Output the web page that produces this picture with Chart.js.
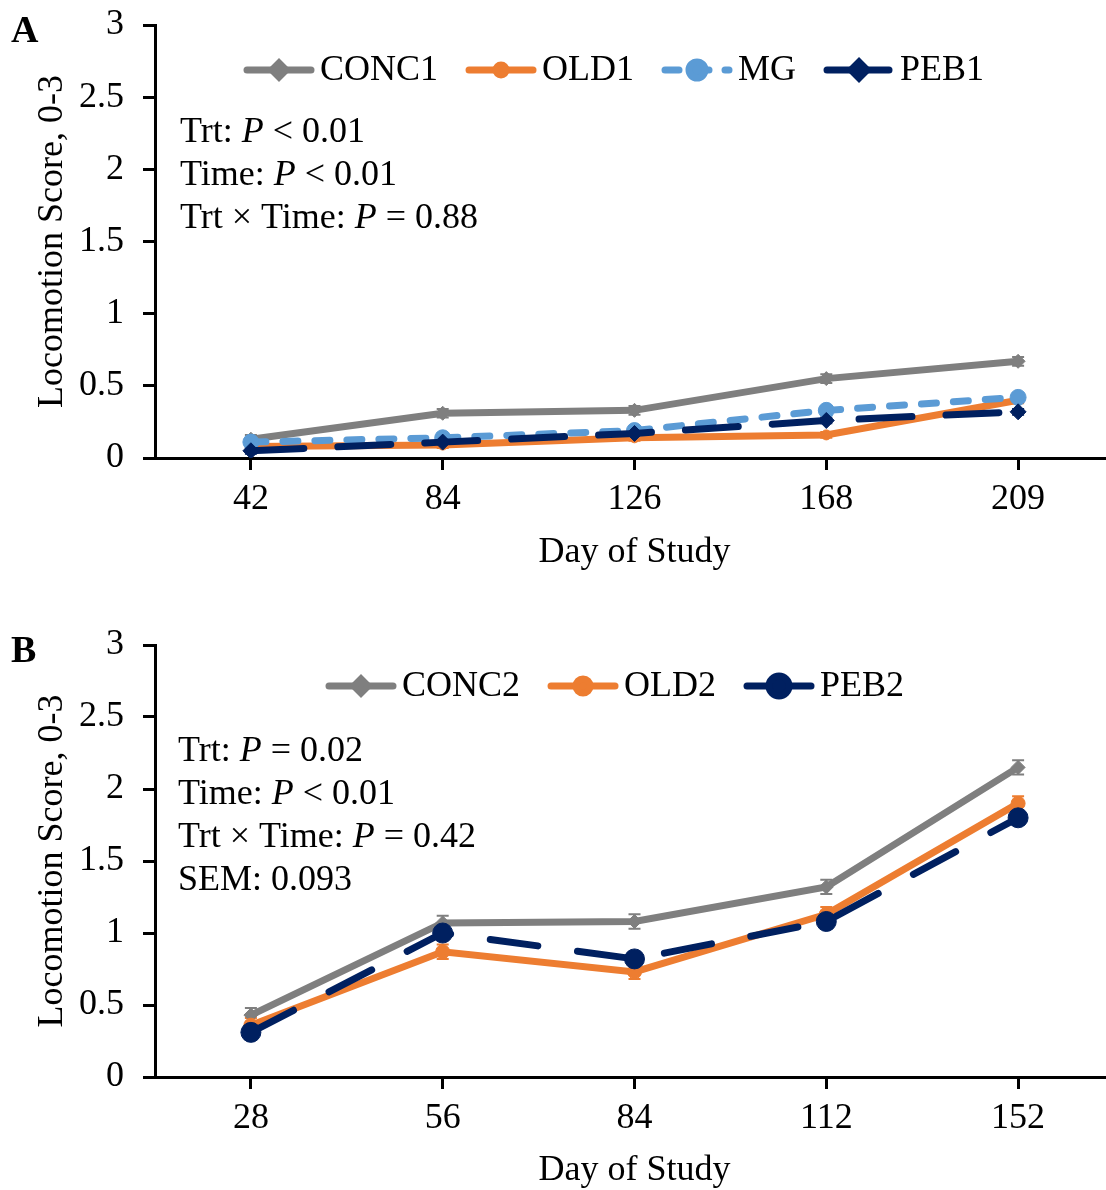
<!DOCTYPE html>
<html>
<head>
<meta charset="utf-8">
<script src="https://cdn.jsdelivr.net/npm/chart.js@4.4.1/dist/chart.umd.min.js"></script>
<style>
html, body { margin: 0; padding: 0; background: #fff; overflow: hidden; width: 1106px; height: 1190px; }
.panel { position: absolute; left: 0; }
#panelA { top: 0; }
#panelB { top: 620px; }
canvas { display: block; }
</style>
</head>
<body>
<div class="panel" id="panelA"><canvas id="chartA" width="1114" height="600"></canvas></div>
<div class="panel" id="panelB"><canvas id="chartB" width="1114" height="600"></canvas></div>
<script>
// panel A - days and scores
const daysA = ["42", "84", "126", "168", "209"];
const conc1 = [0.13, 0.31, 0.33, 0.55, 0.67];
const old1 = [0.08, 0.09, 0.14, 0.16, 0.40];
const mg = [0.11, 0.14, 0.19, 0.33, 0.42];
const peb1 = [0.05, 0.11, 0.17, 0.26, 0.32];
const errConc1 = [0.03, 0.03, 0.03, 0.03, 0.03];
const errOld1 = [0.02, 0.02, 0.02, 0.02, 0.02];
const errMg = [0.03, 0.03, 0.03, 0.03, 0.03];
const errPeb1 = [0.02, 0.02, 0.02, 0.02, 0.02];

// panel B
const daysB = ["28", "56", "84", "112", "152"];
const conc2 = [0.43, 1.07, 1.08, 1.32, 2.15];
const old2 = [0.36, 0.87, 0.73, 1.13, 1.90];
const peb2 = [0.31, 1.00, 0.82, 1.08, 1.80];
const errConc2 = [0.05, 0.05, 0.05, 0.05, 0.05];
const errOld2 = [0.05, 0.05, 0.05, 0.05, 0.05];
const errPeb2 = [0.05, 0.05, 0.05, 0.05, 0.05];

const yTicks = [0, 0.5, 1, 1.5, 2, 2.5, 3];

const notesA = [["Trt: ", "P", " < 0.01"], ["Time: ", "P", " < 0.01"], ["Trt \u00d7 Time: ", "P", " = 0.88"]];
const notesB = [["Trt: ", "P", " = 0.02"], ["Time: ", "P", " < 0.01"], ["Trt \u00d7 Time: ", "P", " = 0.42"], ["SEM: 0.093"]];

const GREY = "#7f7f7f", ORANGE = "#ed7d31", BLUE = "#5b9bd5", NAVY = "#002060";
const FONT = "'Liberation Serif', 'Times New Roman', serif";

Chart.defaults.font.family = FONT;
Chart.defaults.color = "#000";

function series(label, data, err, color, dash, style, radius, order) {
    return {
        label: label,
        data: data,
        err: err,
        borderColor: color,
        backgroundColor: color,
        borderWidth: 7,
        borderDash: dash,
        borderCapStyle: "round",
        pointStyle: style,
        pointRadius: radius,
        pointBorderWidth: 1,
        tension: 0,
        order: order,
    };
}

// small vertical error bars with caps
const errorBars = {
    id: "errorBars",
    beforeDatasetsDraw(chart) {
        const ctx = chart.ctx;
        const y = chart.scales.y;
        chart.data.datasets.forEach((ds, di) => {
            const meta = chart.getDatasetMeta(di);
            ctx.save();
            ctx.strokeStyle = ds.borderColor;
            ctx.lineWidth = 2;
            meta.data.forEach((pt, i) => {
                const top = y.getPixelForValue(ds.data[i] + ds.err[i]);
                const bot = y.getPixelForValue(ds.data[i] - ds.err[i]);
                ctx.beginPath();
                ctx.moveTo(pt.x, top); ctx.lineTo(pt.x, bot);
                ctx.moveTo(pt.x - 6, top); ctx.lineTo(pt.x + 6, top);
                ctx.moveTo(pt.x - 6, bot); ctx.lineTo(pt.x + 6, bot);
                ctx.stroke();
            });
            ctx.restore();
        });
    }
};

// legend, stat notes and panel letter
const extras = {
    id: "extras",
    afterDraw(chart, args, opts) {
        const ctx = chart.ctx;
        ctx.save();
        ctx.textBaseline = "middle";

        ctx.font = "bold 38px " + FONT;
        ctx.fillStyle = "#000";
        ctx.fillText(opts.letter, 11, 32);

        // legend row
        let x = opts.legendX;
        const ly = opts.legendY;
        chart.data.datasets.forEach(ds => {
            ctx.save();
            ctx.strokeStyle = ds.borderColor;
            ctx.lineWidth = ds.borderWidth;
            ctx.lineCap = "round";
            ctx.setLineDash(ds.legendDash || []);
            ctx.beginPath();
            ctx.moveTo(x + 4, ly);
            ctx.lineTo(x + 68, ly);
            ctx.stroke();
            ctx.setLineDash([]);
            ctx.fillStyle = ds.borderColor;
            Chart.helpers.drawPoint(ctx, {pointStyle: ds.pointStyle, radius: ds.pointRadius, rotation: 0, borderWidth: 1}, x + 36, ly);
            ctx.restore();
            x += 77;
            ctx.font = "36px " + FONT;
            ctx.fillStyle = "#000";
            ctx.fillText(ds.label, x, ly + 1);
            x += ctx.measureText(ds.label).width + 27;
        });

        // notes, odd segments italic
        opts.notes.forEach((segs, li) => {
            let nx = opts.noteX;
            const ny = opts.noteY + li * 43;
            segs.forEach((s, si) => {
                ctx.font = (si % 2 ? "italic " : "") + "36px " + FONT;
                ctx.fillText(s, nx, ny);
                nx += ctx.measureText(s).width;
            });
        });
        ctx.restore();
    }
};

function makeChart(canvasId, labels, datasets, extraOpts, xHeight, titleBottom) {
    const axisGrid = {
        display: true,
        drawOnChartArea: false,
        drawTicks: true,
        tickLength: 12,
        tickWidth: 3,
        tickColor: "#000",
    };
    return new Chart(document.getElementById(canvasId), {
        type: "line",
        data: { labels: labels, datasets: datasets },
        options: {
            responsive: false,
            animation: false,
            layout: { autoPadding: false, padding: { top: 25, right: 0, left: 0, bottom: 0 } },
            plugins: {
                legend: { display: false },
                tooltip: { enabled: false },
                extras: extraOpts,
            },
            scales: {
                x: {
                    type: "category",
                    offset: true,
                    grid: axisGrid,
                    border: { display: true, width: 3, color: "#000" },
                    ticks: { font: { size: 36 }, color: "#000", padding: 8, maxRotation: 0 },
                    title: { display: true, text: "Day of Study", font: { size: 36 }, color: "#000", padding: { top: 0, bottom: titleBottom } },
                    afterFit(scale) { scale.height = xHeight; },
                },
                y: {
                    min: 0,
                    max: 3,
                    grid: axisGrid,
                    border: { display: true, width: 3, color: "#000" },
                    afterBuildTicks(scale) { scale.ticks = yTicks.map(v => ({ value: v })); },
                    // small lineHeight so the top label does not push the plot down
                    ticks: { font: { size: 36, lineHeight: 0.3 }, color: "#000", padding: 19, callback: v => String(v) },
                    title: { display: true, text: "Locomotion Score, 0-3", font: { size: 36 }, color: "#000", padding: { top: 31, bottom: 0 } },
                    afterFit(scale) { scale.width = 155; },
                },
            },
        },
        plugins: [errorBars, extras],
    });
}

const chartA = makeChart("chartA", daysA, [
    series("CONC1", conc1, errConc1, GREY, [], "rectRot", 7, 3),
    series("OLD1", old1, errOld1, ORANGE, [], "circle", 5, 2),
    Object.assign(series("MG", mg, errMg, BLUE, [15, 17], "circle", 8, 1), { legendDash: [14, 16] }),
    Object.assign(series("PEB1", peb1, errPeb1, NAVY, [53, 34], "rectRot", 8, 0), { legendDash: [24, 14] }),
], { letter: "A", legendX: 243, legendY: 70, notes: notesA, noteX: 180, noteY: 133 }, 142, 26);

const chartB = makeChart("chartB", daysB, [
    series("CONC2", conc2, errConc2, GREY, [], "rectRot", 7, 2),
    series("OLD2", old2, errOld2, ORANGE, [], "circle", 7, 1),
    Object.assign(series("PEB2", peb2, errPeb2, NAVY, [48, 40], "circle", 10, 0), { legendDash: [] }),
], { letter: "B", legendX: 325, legendY: 66, notes: notesB, noteX: 178, noteY: 132 }, 143, 28);
</script>
</body>
</html>
